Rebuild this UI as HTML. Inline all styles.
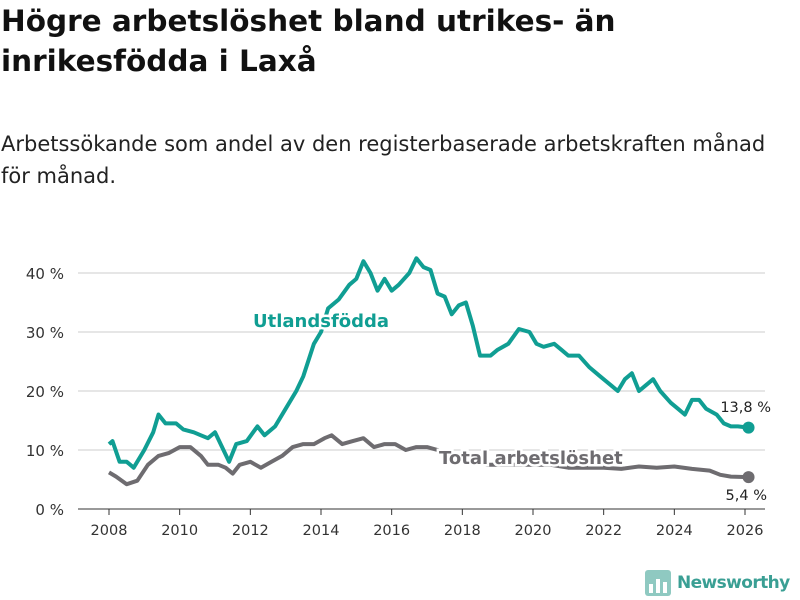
<!DOCTYPE html>
<html><head><meta charset="utf-8"><style>
body{margin:0;width:800px;height:600px;background:#fff;font-family:"DejaVu Sans","Liberation Sans",sans-serif;overflow:hidden;position:relative}
h1{position:absolute;left:1px;top:1px;margin:0;font-size:29.5px;line-height:40px;font-weight:bold;color:#111;letter-spacing:0;white-space:nowrap}
.sub{position:absolute;left:1px;top:128px;margin:0;font-size:21px;line-height:32px;color:#222;white-space:nowrap}
svg{position:absolute;left:0;top:0}
</style></head><body>
<h1>Högre arbetslöshet bland utrikes- än<br>inrikesfödda i Laxå</h1>
<p class="sub">Arbetssökande som andel av den registerbaserade arbetskraften månad<br>för månad.</p>
<svg id="c" width="800" height="600"></svg>
<script>
const yTicks=[0,10,20,30,40];
const xTicks=[2008,2010,2012,2014,2016,2018,2020,2022,2024,2026];
const utlT=[2008.0,2008.1,2008.3,2008.5,2008.7,2009.0,2009.25,2009.4,2009.6,2009.9,2010.1,2010.4,2010.6,2010.8,2011.0,2011.2,2011.4,2011.6,2011.9,2012.2,2012.4,2012.7,2013.0,2013.3,2013.5,2013.8,2014.0,2014.2,2014.5,2014.8,2015.0,2015.2,2015.4,2015.6,2015.8,2016.0,2016.2,2016.5,2016.7,2016.9,2017.1,2017.3,2017.5,2017.7,2017.9,2018.1,2018.3,2018.5,2018.8,2019.0,2019.3,2019.6,2019.9,2020.1,2020.3,2020.6,2020.8,2021.0,2021.3,2021.6,2021.9,2022.2,2022.4,2022.6,2022.8,2023.0,2023.2,2023.4,2023.6,2023.9,2024.1,2024.3,2024.5,2024.7,2024.9,2025.2,2025.4,2025.6,2025.8,2026.1];
const utlV=[11,11.5,8,8,7,10,13,16,14.5,14.5,13.5,13,12.5,12,13,10.5,8,11,11.5,14,12.5,14,17,20,22.5,28,30,34,35.5,38,39,42,40,37,39,37,38,40,42.5,41,40.5,36.5,36,33,34.5,35,31,26,26,27,28,30.5,30,28,27.5,28,27,26,26,24,22.5,21,20,22,23,20,21,22,20,18,17,16,18.5,18.5,17,16,14.5,14,14,13.8];
const totT=[2008.0,2008.2,2008.5,2008.8,2009.1,2009.4,2009.7,2010.0,2010.3,2010.6,2010.8,2011.1,2011.3,2011.5,2011.7,2012.0,2012.3,2012.6,2012.9,2013.2,2013.5,2013.8,2014.1,2014.3,2014.6,2014.9,2015.2,2015.5,2015.8,2016.1,2016.4,2016.7,2017.0,2017.3,2017.7,2018.2,2018.7,2019.2,2020.0,2020.5,2021.0,2021.5,2022.0,2022.5,2023.0,2023.5,2024.0,2024.5,2025.0,2025.3,2025.6,2026.1];
const totV=[6.2,5.5,4.2,4.8,7.5,9,9.5,10.5,10.5,9,7.5,7.5,7,6,7.5,8,7,8,9,10.5,11,11,12,12.5,11,11.5,12,10.5,11,11,10,10.5,10.5,10,9,8,7.5,7.5,7.5,7.5,7,7,7,6.8,7.2,7,7.2,6.8,6.5,5.8,5.5,5.4];
const NS="http://www.w3.org/2000/svg";
const svg=document.getElementById('c');
const X=t=>109+(t-2008)*(745-109)/18;
const Y=v=>509-v*5.9;
function mk(tag,attrs,parent){const e=document.createElementNS(NS,tag);for(const k in attrs)e.setAttribute(k,attrs[k]);(parent||svg).appendChild(e);return e;}
yTicks.forEach(v=>{
 const g=mk('line',{x1:78,x2:765,y1:Y(v),y2:Y(v),stroke:v===0?'#333':'#ddd','stroke-width':v===0?1:1.5});
 
 
 const t=mk('text',{x:64,y:Y(v)+6,'text-anchor':'end','font-size':15,fill:'#333'});
 t.textContent=v+' %';
 
 
});
xTicks.forEach(v=>{
 const l=mk('line',{x1:X(v),x2:X(v),y1:509,y2:515,stroke:'#333'});
 
 
 const t=mk('text',{x:X(v),y:535,'text-anchor':'middle','font-size':14.5,fill:'#333'});
 t.textContent=v;
 
 
});
function line(T,V,col,name){
 const d=T.map((t,i)=>(i?'L':'M')+X(t).toFixed(1)+','+Y(V[i]).toFixed(1)).join('');
 const p=mk('path',{d:d,fill:'none',stroke:col,'stroke-width':4,'stroke-linejoin':'round'});
 
 
 const n=T.length-1;
 const c=mk('circle',{cx:X(T[n]),cy:Y(V[n]),r:6,fill:col});
 
 
}
line(totT,totV,'#6e6c70','total');
line(utlT,utlV,'#109e93','utlandsfodda');
function lab(x,y,txt,col,size,bold,name,halo,anchor){
 const t=mk('text',{x:x,y:y,'font-size':size,'font-weight':bold?'bold':'normal',fill:col,'text-anchor':anchor||'start'});
 if(halo){t.setAttribute('stroke','#fff');t.setAttribute('stroke-width',5);t.setAttribute('paint-order','stroke');}
 t.textContent=txt;
 
 
}
lab(253,327,'Utlandsfödda','#109e93',18,true,'utlandsfodda-label',true);
lab(439,464,'Total arbetslöshet','#6e6c70',18,true,'total-label',true);
lab(771,412,'13,8 %','#222',14.5,false,'utlandsfodda-end-value',false,'end');
lab(767,500,'5,4 %','#222',14.5,false,'total-end-value',false,'end');
</script>
<div style="position:absolute;left:645px;top:569px;height:27px;display:flex;align-items:center">
 <svg width="26" height="26" style="position:static" viewBox="0 0 26 26"><rect x="0" y="0" width="26" height="26" rx="3" fill="#8fc9c1"/><rect x="4" y="14" width="4" height="9" fill="#fff"/><rect x="11" y="9" width="4" height="14" fill="#fff"/><rect x="18" y="12" width="4" height="11" fill="#fff"/></svg>
 <span style="margin-left:6px;font-size:17px;font-weight:bold;color:#3a9f94;letter-spacing:-0.6px">Newsworthy</span>
</div>
</body></html>
